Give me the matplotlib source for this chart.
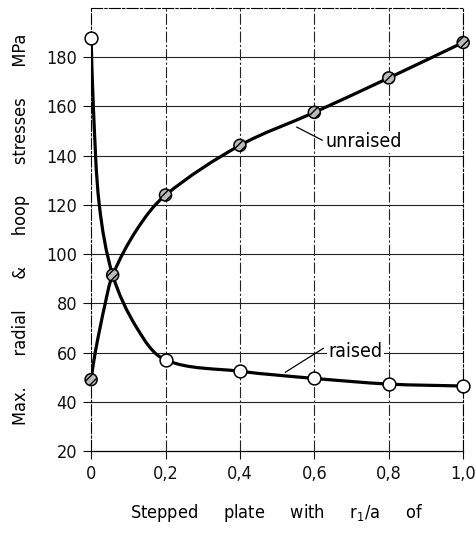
import numpy as np
import matplotlib
matplotlib.use('Agg')
import matplotlib.pyplot as plt
from matplotlib.path import Path
from matplotlib.patches import PathPatch

# marker positions
r_ratio = [0.0, 0.2, 0.4, 0.6, 0.8, 1.0]
raised_pts = [188, 57, 52.4, 49.5, 47.2, 46.4]
unraised_x = [0.0, 0.058, 0.2, 0.4, 0.6, 0.8, 1.0]
unraised_pts = [49, 91.5, 124, 144.2, 157.6, 171.6, 186]

# points
raised_curve_x = [0.0, 0.006, 0.022, 0.058, 0.123, 0.2, 0.4, 0.6, 0.8, 1.0]
raised_curve_y = [188, 160, 120, 91.5, 70, 57, 52.4, 49.5, 47.2, 46.4]
unraised_curve_x = [0.0, 0.011, 0.038, 0.058, 0.123, 0.2, 0.4, 0.6, 0.8, 1.0]
unraised_curve_y = [49, 60, 80, 91.5, 110, 124, 144.2, 157.6, 171.6, 186]

x_ticks = [0.0, 0.2, 0.4, 0.6, 0.8, 1.0]
x_tick_labels = ['0', '0,2', '0,4', '0,6', '0,8', '1,0']
y_ticks = [20, 40, 60, 80, 100, 120, 140, 160, 180]

plt.rcParams['font.family'] = ['DejaVu Sans']
plt.rcParams['font.stretch'] = 'condensed'


def smooth_path(xs, ys, sx=372.0, sy=2.465):
    # cubic Bezier through the points, tangents taken in pixel-like units
    p = np.column_stack([np.asarray(xs) * sx, np.asarray(ys) * sy])
    n = len(p)
    tang = np.zeros_like(p)
    for i in range(n):
        a = p[max(i - 1, 0)]
        b = p[min(i + 1, n - 1)]
        d = b - a
        tang[i] = d / np.hypot(*d)
    verts = [p[0]]
    codes = [Path.MOVETO]
    for i in range(n - 1):
        seg = np.hypot(*(p[i + 1] - p[i])) / 3.0
        verts += [p[i] + tang[i] * seg, p[i + 1] - tang[i + 1] * seg, p[i + 1]]
        codes += [Path.CURVE4] * 3
    verts = np.array(verts) / [sx, sy]
    return Path(verts, codes)


fig = plt.figure(figsize=(4.77, 5.35), dpi=100)
ax = fig.add_axes([0.191, 0.157, 0.780, 0.828])
ax.set_xlim(0, 1.0)
ax.set_ylim(20, 200)

for y in y_ticks[1:]:
    ax.axhline(y, color='#222222', lw=0.8, zorder=1)
for x in x_ticks[1:]:
    ax.axvline(x, color='#222222', lw=0.8, ls=(0, (10, 2, 2, 2)), zorder=1)
for side in ['top', 'right', 'left']:
    ax.spines[side].set_linewidth(0.8)
    ax.spines[side].set_linestyle((0, (10, 2, 2, 2)))
ax.spines['bottom'].set_linewidth(0.9)

ax.add_patch(PathPatch(smooth_path(raised_curve_x, raised_curve_y), fill=False, lw=2.3, color='black', zorder=3))
ax.add_patch(PathPatch(smooth_path(unraised_curve_x, unraised_curve_y), fill=False, lw=2.3, color='black', zorder=3))

ax.scatter(r_ratio, raised_pts, s=85, facecolor='white', edgecolor='black', linewidth=1.1, zorder=5, clip_on=False)
ax.scatter(unraised_x, unraised_pts, s=75, facecolor='#bbbbbb', edgecolor='black', linewidth=1.1,
           hatch='////', zorder=5, clip_on=False)

ax.set_xticks(x_ticks)
ax.set_xticklabels(x_tick_labels)
ax.set_yticks(y_ticks)
ax.tick_params(direction='out', length=6, width=0.8, labelsize=13, pad=4, colors='#111111')

ax.set_xlabel('Stepped     plate     with     r$_1$/a     of', fontsize=13, labelpad=14)
ax.set_ylabel('Max.      radial      &      hoop      stresses      MPa', fontsize=13, labelpad=12)

# curve labels with leader lines
ax.plot([0.553, 0.621], [151.6, 146.3], color='black', lw=0.9, zorder=4)
ax.text(0.629, 145.7, 'unraised', fontsize=14, va='center', ha='left', zorder=4,
        bbox=dict(facecolor='white', edgecolor='none', pad=1))
ax.plot([0.522, 0.624], [52.0, 61.7], color='black', lw=0.9, zorder=4)
ax.text(0.637, 60.3, 'raised', fontsize=14, va='center', ha='left', zorder=4,
        bbox=dict(facecolor='white', edgecolor='none', pad=1))

fig.savefig('out.png', dpi=100)
